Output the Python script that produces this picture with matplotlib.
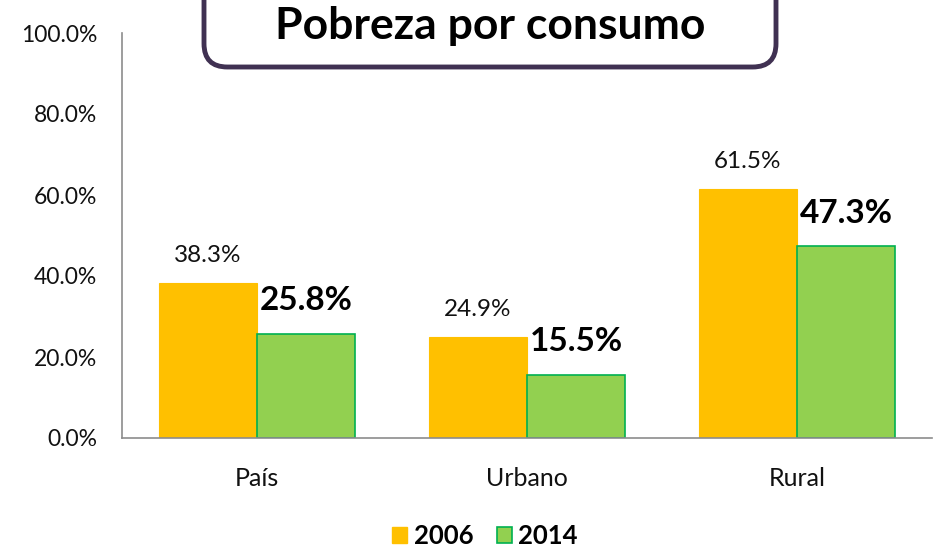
import matplotlib
matplotlib.use("Agg")
import matplotlib.pyplot as plt
from matplotlib.patches import FancyBboxPatch, Patch
from matplotlib.ticker import FuncFormatter

plt.rcParams['font.family'] = ['Lato', 'DejaVu Sans']

categories = ["País", "Urbano", "Rural"]
years = ["2006", "2014"]
v2006 = [38.3, 24.9, 61.5]
v2014 = [25.8, 15.5, 47.3]
yticks = [0, 20, 40, 60, 80, 100]
title = "Pobreza por consumo"

c2006 = "#FFC000"
c2014 = "#92D050"
e2014 = "#00B050"

fig = plt.figure(figsize=(9.34, 5.48), dpi=100)
ax = fig.add_axes([122/934, 1-438/548, 810/934, (438-33)/548])

x = range(len(categories))
w = 0.363
b1 = ax.bar([i - w/2 for i in x], v2006, w, color=c2006, edgecolor=c2006, linewidth=0.8)
b2 = ax.bar([i + w/2 for i in x], v2014, w, color=c2014, edgecolor=e2014, linewidth=1.2)

for i, v in enumerate(v2006):
    ax.annotate(f"{v:.1f}%", (i - w/2, v), xytext=(0, 20), textcoords="offset points",
                ha="center", va="center", fontsize=17.5, color="#111111")
for i, v in enumerate(v2014):
    ax.annotate(f"{v:.1f}%", (i + w/2, v), xytext=(0, 24), textcoords="offset points",
                ha="center", va="center", fontsize=24, fontweight="bold", color="black")

ax.set_xlim(-0.5, 2.5)
ax.set_ylim(0, 100)
ax.set_yticks(yticks)
ax.yaxis.set_major_formatter(FuncFormatter(lambda v, p: f"{v:.1f}%"))
ax.set_xticks(list(x))
ax.set_xticklabels(categories)
ax.tick_params(axis='y', length=0, labelsize=16.5, pad=18, labelcolor="#111111")
ax.tick_params(axis='x', length=0, labelsize=18, pad=21, labelcolor="#111111")
for s in ["top", "right"]:
    ax.spines[s].set_visible(False)
for s in ["left", "bottom"]:
    ax.spines[s].set_color("#8C8C8C")
    ax.spines[s].set_linewidth(1.2)

# Title box
box = FancyBboxPatch((204/934, 1-67/548), (776-204)/934, 0.2,
                     boxstyle="round,pad=0,rounding_size=0.025",
                     transform=fig.transFigure, facecolor="white",
                     edgecolor="#403152", linewidth=3.5, zorder=5, mutation_aspect=934/548)
fig.patches.append(box)
fig.text(490/934, 1-26/548, title, ha="center", va="center", fontsize=32,
         fontweight="bold", zorder=6)

handles = [Patch(facecolor=c2006, edgecolor=c2006), Patch(facecolor=c2014, edgecolor=e2014, linewidth=1.2)]
leg = fig.legend(handles, years, loc="center", bbox_to_anchor=(485/934, 1-536/548), ncol=2,
                 frameon=False, prop={'weight': 'bold', 'size': 18.5},
                 handlelength=0.6, handleheight=0.6, handletextpad=0.25, columnspacing=0.9)

fig.savefig("out.png", dpi=100)
